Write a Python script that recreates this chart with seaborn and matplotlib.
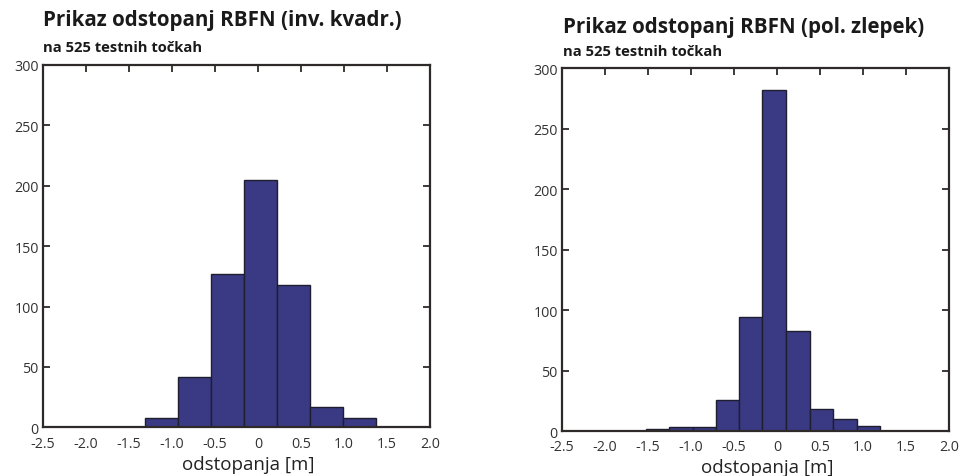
import matplotlib
matplotlib.use("agg")
import matplotlib.pyplot as plt
import seaborn as sns
import pandas as pd

# left histogram (inverse quadric RBF)
invEdges = [-1.31, -0.93, -0.55, -0.16, 0.22, 0.60, 0.99, 1.37]
invCounts = [8, 42, 127, 205, 118, 17, 8]

# right histogram (polyharmonic spline)
polEdges = [-1.52, -1.25, -0.98, -0.71, -0.44, -0.17, 0.10, 0.38, 0.65, 0.93, 1.20]
polCounts = [2, 3, 3, 26, 94, 282, 83, 18, 10, 4]

xTicks = [-2.5, -2.0, -1.5, -1.0, -0.5, 0, 0.5, 1.0, 1.5, 2.0]
xTickLabels = ['-2.5', '-2.0', '-1.5', '-1.0', '-0.5', '0', '0.5', '1.0', '1.5', '2.0']
yTicks = [0, 50, 100, 150, 200, 250, 300]

titles = ['Prikaz odstopanj RBFN (inv. kvadr.)', 'Prikaz odstopanj RBFN (pol. zlepek)']
subtitle = 'na 525 testnih točkah'
xLabel = 'odstopanja [m]'

barColor = '#3a3a84'
edgeColor = '#1e1e2e'
spineColor = '#2e2a2a'

sns.set_style('white')
plt.rcParams['font.family'] = ['Open Sans', 'DejaVu Sans']

fig = plt.figure(figsize=(9.59, 4.77), dpi=100)
axLeft = fig.add_axes([0.0448, 0.102, 0.4035, 0.760])
axRight = fig.add_axes([0.586, 0.0943, 0.4035, 0.761])


def centers(edges):
    return [(edges[i] + edges[i + 1]) / 2.0 for i in range(len(edges) - 1)]


for ax, edges, counts in [(axLeft, invEdges, invCounts), (axRight, polEdges, polCounts)]:
    frame = pd.DataFrame({'x': centers(edges), 'n': counts})
    sns.histplot(data=frame, x='x', weights='n', bins=edges, ax=ax,
                 color=barColor, edgecolor=edgeColor, linewidth=1.0, alpha=1.0)
    ax.set_xlim(-2.5, 2.0)
    ax.set_ylim(0, 300)
    ax.set_xticks(xTicks)
    ax.set_xticklabels(xTickLabels)
    ax.set_yticks(yTicks)
    ax.set_ylabel('')
    ax.set_xlabel(xLabel, fontsize=13.5, color='#222222', labelpad=2)
    ax.xaxis.set_label_coords(0.53, -0.075)
    for s in ax.spines.values():
        s.set_color(spineColor)
        s.set_linewidth(1.6)
        s.set_visible(True)
    ax.tick_params(axis='both', direction='in', length=5, width=1.3,
                   color=spineColor, labelsize=10.3, labelcolor='#333333')
    ax.tick_params(axis='x', top=True, bottom=False, pad=6)
    ax.tick_params(axis='y', left=True, right=True, pad=3)

fig.text(0.0448, 0.945, titles[0], fontsize=14.8, fontweight='bold', color='#1a1a1a', va='baseline')
fig.text(0.0448, 0.891, subtitle, fontsize=10.6, fontweight='bold', color='#1a1a1a', va='baseline')
fig.text(0.587, 0.931, titles[1], fontsize=14.8, fontweight='bold', color='#1a1a1a', va='baseline')
fig.text(0.587, 0.882, subtitle, fontsize=10.6, fontweight='bold', color='#1a1a1a', va='baseline')

fig.savefig('out.png', dpi=100)
plt.close('all')
